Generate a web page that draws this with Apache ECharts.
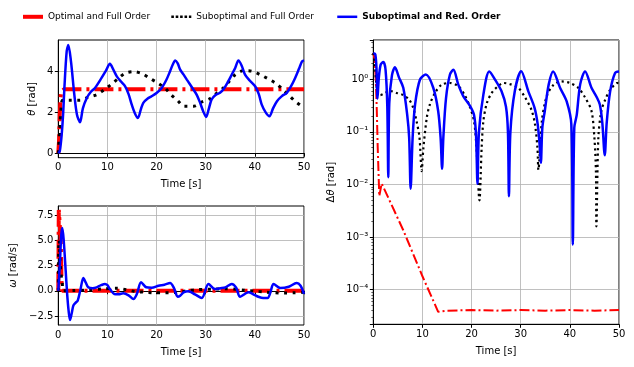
<!DOCTYPE html>
<html>
<head>
<meta charset="utf-8">
<script src="https://cdn.jsdelivr.net/npm/echarts@6/dist/echarts.min.js"></script>
<style>
  html, body { margin: 0; padding: 0; background: #fff; }
  #chart { width: 634px; height: 367px; }
</style>
</head>
<body>
<div id="chart"></div>
<script>
// theta [rad]
const thetaOptT = [0, 0.15, 0.3, 0.45, 0.6, 0.8, 1.2, 50];
const thetaOpt = [0, 0.6, 1.9, 2.7, 3.05, 3.14, 3.14, 3.14];
const thetaSubT = [0, 0.3, 0.6, 0.9, 2.7, 4.4, 6.1, 7.8, 9.4, 10.7, 12.2, 13.6, 15.3, 17.1, 18.7, 20.0, 21.7, 22.95, 24.3, 25.6, 27.5, 29.2, 30.9, 32.3, 33.6, 34.8, 36.0, 37.7, 39.4, 41.1, 42.6, 44.1, 45.5, 46.8, 48.2, 49.6, 50];
const thetaSub = [0, 1.2, 2.3, 2.6, 2.6, 2.6, 2.75, 2.87, 3.12, 3.36, 3.66, 3.92, 4.0, 3.89, 3.66, 3.48, 3.2, 2.87, 2.58, 2.3, 2.3, 2.51, 2.68, 2.96, 3.2, 3.53, 3.85, 4.05, 4.02, 3.85, 3.66, 3.45, 3.17, 2.87, 2.55, 2.3, 2.27];
const thetaRedT = [0, 0.3, 0.69, 1.0, 1.24, 1.71, 2.04, 2.58, 3.26, 3.8, 4.42, 5.0, 5.8, 6.6, 7.47, 8.8, 9.7, 10.5, 11.2, 11.9, 12.8, 13.6, 14.3, 14.95, 15.6, 16.2, 16.8, 17.3, 18.2, 19.0, 20.0, 21.05, 22.0, 22.75, 23.3, 23.8, 24.3, 24.8, 25.5, 26.15, 27.5, 28.2, 28.86, 29.5, 30.08, 30.6, 31.2, 32.0, 32.9, 33.8, 34.6, 35.4, 36.0, 36.66, 37.3, 38.0, 39.0, 40.06, 40.8, 41.4, 42.2, 42.97, 43.7, 44.5, 45.5, 46.5, 47.4, 48.2, 49.0, 49.6, 50];
const thetaRed = [0, 0.1, 0.91, 2.0, 3.2, 5.0, 5.3, 4.5, 2.87, 1.89, 1.52, 2.2, 2.71, 3.0, 3.2, 3.69, 4.05, 4.38, 4.1, 3.77, 3.5, 3.28, 2.9, 2.38, 1.95, 1.73, 2.15, 2.47, 2.68, 2.79, 2.95, 3.2, 3.6, 4.02, 4.35, 4.54, 4.4, 4.1, 3.85, 3.61, 3.12, 2.85, 2.47, 2.05, 1.78, 2.15, 2.63, 2.85, 2.96, 3.2, 3.53, 3.9, 4.18, 4.54, 4.3, 3.85, 3.55, 3.28, 2.9, 2.38, 2.0, 1.81, 2.2, 2.55, 2.8, 2.96, 3.3, 3.69, 4.15, 4.5, 4.55];

// omega [rad/s]
const omegaOptT = [0, 0.1, 0.3, 0.5, 0.65, 0.8, 1.0, 50];
const omegaOpt = [0, 8.0, 7.9, 5.0, 1.0, 0, 0, 0];
const omegaSubT = [0, 0.1, 0.2, 0.35, 0.55, 0.8, 1.0, 3, 6, 9, 11.9, 13.9, 15.5, 17.2, 19, 20.9, 22.6, 24.6, 26.3, 28, 31.4, 34, 36, 38, 40, 42, 44, 46, 48, 50];
const omegaSub = [0, 4.5, 5.0, 3.0, 1.7, 0.8, 0.0, 0.02, 0.08, 0.18, 0.24, 0.1, -0.07, -0.13, -0.2, -0.2, -0.2, -0.13, 0.0, 0.1, 0.15, 0.2, 0.15, 0.05, -0.05, -0.12, -0.2, -0.22, -0.2, -0.15];
const omegaRedT = [0, 0.3, 0.6, 0.82, 1.1, 1.5, 1.8, 2.1, 2.38, 2.7, 3.06, 3.5, 3.95, 4.5, 5.1, 5.6, 6.1, 7.0, 7.8, 8.7, 9.5, 10.0, 10.5, 11.4, 12.3, 13.2, 14.3, 15.3, 16.0, 16.85, 17.9, 19.0, 20.4, 21.6, 22.75, 23.5, 24.3, 24.8, 25.5, 26.5, 27.8, 29.2, 30.55, 31.9, 33.0, 34.0, 35.3, 36.2, 37.0, 38.7, 39.7, 40.7, 41.7, 42.6, 43.2, 43.8, 45.2, 46.9, 48.5, 49.3, 50];
const omegaRed = [0, 2.5, 5.5, 6.2, 5.0, 2.0, -0.3, -2.0, -2.9, -2.3, -1.48, -1.2, -0.98, 0.1, 1.26, 0.8, 0.34, 0.25, 0.34, 0.55, 0.67, 0.55, 0.17, -0.32, -0.35, -0.25, -0.45, -0.82, -0.3, 0.83, 0.34, 0.3, 0.5, 0.6, 0.77, 0.3, -0.59, -0.49, -0.16, -0.06, -0.35, -0.72, 0.67, 0.17, 0.25, 0.34, 0.67, 0.3, -0.59, -0.16, -0.35, -0.59, -0.72, -0.72, -0.1, 0.67, 0.27, 0.4, 0.77, 0.5, -0.32];

// delta theta [rad], log scale
const dthOptT = [0, 0.3, 0.5, 0.68, 0.9, 1.22, 1.7, 2.04, 6.1, 10, 13.2, 15, 20, 25, 30, 35, 40, 45, 50];
const dthOpt = [3.14, 2.3, 1.0, 0.33, 0.05, 0.006, 0.0105, 0.0105, 0.00135, 0.00018, 0.000038, 0.00004, 0.000041, 0.00004, 0.000041, 0.00004, 0.000041, 0.00004, 0.000041];
const dthSubT = [0, 0.3, 0.6, 0.9, 1.36, 3.4, 4.75, 6.1, 7.3, 8.1, 8.8, 9.4, 9.84, 10.2, 10.9, 11.5, 12.55, 13.9, 15.6, 17.3, 18.7, 19.7, 20.5, 21.0, 21.6, 22.05, 22.4, 23.1, 24.1, 25.4, 26.5, 27.8, 29.5, 30.9, 32.2, 32.9, 33.4, 33.6, 34.3, 35.3, 36.7, 38.3, 40.0, 41.7, 43.1, 44.4, 44.99, 45.3, 45.4, 45.8, 46.4, 47.2, 48.2, 49.6, 50];
const dthSub = [3.14, 1.9, 0.85, 0.54, 0.5, 0.6, 0.55, 0.5, 0.41, 0.29, 0.16, 0.078, 0.018, 0.05, 0.19, 0.33, 0.55, 0.79, 0.85, 0.74, 0.48, 0.29, 0.16, 0.05, 0.005, 0.05, 0.16, 0.35, 0.55, 0.74, 0.85, 0.81, 0.69, 0.45, 0.26, 0.14, 0.05, 0.019, 0.16, 0.48, 0.79, 0.91, 0.85, 0.69, 0.45, 0.25, 0.078, 0.018, 0.0016, 0.078, 0.25, 0.41, 0.63, 0.85, 0.86];
const dthRedT = [0, 0.4, 0.65, 0.85, 1.1, 1.5, 2.04, 2.5, 2.85, 3.05, 3.25, 3.8, 4.41, 5.2, 6.1, 6.9, 7.3, 7.6, 8.0, 8.5, 9.5, 10.7, 12.2, 13.2, 13.7, 14.0, 14.25, 14.8, 15.6, 16.3, 17.3, 18.3, 19.7, 20.5, 20.9, 21.2, 21.5, 22.4, 23.6, 24.8, 26.1, 27.0, 27.4, 27.6, 27.9, 28.8, 30.1, 31.55, 32.8, 33.45, 33.9, 34.1, 34.4, 34.9, 35.7, 36.6, 38.0, 39.35, 40.3, 40.6, 40.9, 41.4, 42.1, 43.1, 44.4, 45.5, 46.1, 46.6, 47.1, 47.5, 48.2, 49.2, 50];
const dthRed = [3.14, 3.0, 1.6, 0.43, 1.0, 1.9, 2.13, 1.5, 0.3, 0.0138, 0.35, 1.2, 1.69, 1.1, 0.69, 0.21, 0.077, 0.0083, 0.077, 0.33, 0.99, 1.23, 0.69, 0.25, 0.077, 0.02, 0.077, 0.44, 1.23, 1.52, 0.79, 0.48, 0.31, 0.21, 0.089, 0.0103, 0.1, 0.51, 1.41, 0.98, 0.59, 0.3, 0.1, 0.006, 0.1, 0.6, 1.42, 0.59, 0.29, 0.14, 0.05, 0.026, 0.12, 0.25, 0.8, 1.41, 0.69, 0.38, 0.14, 0.00072, 0.12, 0.21, 0.8, 1.41, 0.69, 0.45, 0.33, 0.15, 0.036, 0.15, 0.59, 1.32, 1.41];

const thetaTicks = [0, 2, 4];
const omegaTicks = [-2.5, 0, 2.5, 5, 7.5];

const names = ['Optimal and Full Order', 'Suboptimal and Full Order', 'Suboptimal and Red. Order'];

const zip = (t, v) => t.map((x, i) => [x, v[i]]);
const FONT = 'DejaVu Sans';
const txt = { color: '#000', fontFamily: FONT, fontSize: 10 };
const SUP = { '0': '⁰', '1': '¹', '2': '²', '3': '³', '4': '⁴', '5': '⁵', '-': '⁻' };

const chart = echarts.init(document.getElementById('chart'));

const xAxisFor = (gi) => ({
  type: 'value', gridIndex: gi, min: 0, max: 50, interval: 10,
  name: 'Time [s]', nameLocation: 'middle', nameGap: 22, nameTextStyle: txt,
  axisLine: { show: true, lineStyle: { color: '#000', width: 1 } },
  axisTick: { show: true, length: 3.5, lineStyle: { color: '#000' } },
  axisLabel: { ...txt, margin: 5 },
  splitLine: { show: true, lineStyle: { color: '#b0b0b0', width: 0.8 } }
});

const minus = (s) => String(s).replace('-', '\u2212');
const italic = { fontStyle: 'italic', fontFamily: FONT, fontSize: 10, color: '#000' };

const yAxes = [
  {
    type: 'value', gridIndex: 0, min: -0.22, max: 5.55,
    name: '{i|θ} [rad]', nameLocation: 'middle', nameGap: 21, nameRotate: 90,
    nameTextStyle: { ...txt, rich: { i: italic } },
    axisLine: { show: true, lineStyle: { color: '#000', width: 1 } },
    axisTick: { show: true, length: 3.5, lineStyle: { color: '#000' }, customValues: thetaTicks },
    axisLabel: { ...txt, margin: 5, customValues: thetaTicks },
    splitLine: { show: true, lineStyle: { color: '#b0b0b0', width: 0.8 } }
  },
  {
    type: 'value', gridIndex: 1, min: -3.39, max: 8.39,
    name: '{i|ω} [rad/s]', nameLocation: 'middle', nameGap: 40, nameRotate: 90,
    nameTextStyle: { ...txt, rich: { i: italic } },
    axisLine: { show: true, lineStyle: { color: '#000', width: 1 } },
    axisTick: { show: true, length: 3.5, lineStyle: { color: '#000' }, customValues: omegaTicks },
    axisLabel: { ...txt, margin: 5, customValues: omegaTicks, formatter: (v) => minus(v.toFixed(1)) },
    splitLine: { show: true, lineStyle: { color: '#b0b0b0', width: 0.8 } }
  },
  {
    type: 'log', logBase: 10, gridIndex: 2, min: 2.2e-5, max: 5.58,
    name: 'Δ{i|θ} [rad]', nameLocation: 'middle', nameGap: 37, nameRotate: 90,
    nameTextStyle: { ...txt, rich: { i: italic } },
    axisLine: { show: true, lineStyle: { color: '#000', width: 1 } },
    axisTick: { show: true, length: 3.5, lineStyle: { color: '#000' } },
    minorTick: { show: true, splitNumber: 9, length: 2, lineStyle: { color: '#000', width: 0.6 } },
    axisLabel: {
      ...txt, margin: 5, showMinLabel: false, showMaxLabel: false,
      formatter: (v) => {
        const l = Math.log10(v);
        const e = Math.round(l);
        if (Math.abs(l - e) > 1e-6) return '';
        return '10' + String(e).split('').map((c) => SUP[c]).join('');
      }
    },
    splitLine: { show: true, lineStyle: { color: '#b0b0b0', width: 0.8 } }
  }
];

const optStyle = (w, dash) => ({ color: '#ff0000', width: w, type: dash, cap: 'butt' });
const subStyle = (w, dash) => ({ color: '#000', width: w, type: dash, cap: 'butt' });
const redStyle = (w) => ({ color: '#0000ff', width: w, type: 'solid' });

const line = (name, data, xi, style, z, smooth) => ({
  name, type: 'line', data, xAxisIndex: xi, yAxisIndex: xi,
  showSymbol: false, symbol: 'none', smooth, lineStyle: style,
  itemStyle: { color: style.color }, z, animation: false
});

const series = [
  line(names[0], zip(thetaOptT, thetaOpt), 0, optStyle(4, [19, 5, 3, 5]), 2, false),
  line(names[1], zip(thetaSubT, thetaSub), 0, subStyle(3, [3, 5.5]), 3, 0.3),
  line(names[2], zip(thetaRedT, thetaRed), 0, redStyle(2.5), 4, 0.3),
  line(names[0], zip(omegaOptT, omegaOpt), 1, optStyle(4, [19, 5, 3, 5]), 2, false),
  line(names[1], zip(omegaSubT, omegaSub), 1, subStyle(3, [3, 5.5]), 3, 0.3),
  line(names[2], zip(omegaRedT, omegaRed), 1, redStyle(2.5), 4, 0.3),
  line(names[0], zip(dthOptT, dthOpt), 2, optStyle(2, [10, 3, 2, 3]), 2, false),
  line(names[1], zip(dthSubT, dthSub), 2, subStyle(2.2, [2.2, 3.3]), 3, 0.3),
  line(names[2], zip(dthRedT, dthRed), 2, redStyle(2.5), 4, 0.3)
];

const legendFor = (name, left, bold, ls) => ({
  show: true, left, top: 12, padding: 0, itemWidth: 20, itemHeight: 12,
  data: [{
    name,
    textStyle: { ...txt, fontSize: 9, fontWeight: bold ? 'bold' : 'normal' },
    itemStyle: { opacity: 0, color: 'transparent', borderWidth: 0 },
    lineStyle: ls
  }],
  selectedMode: false
});

chart.setOption({
  backgroundColor: '#fff',
  animation: false,
  grid: [
    { left: 58.3, top: 40, width: 245.7, height: 117.7, show: true, borderColor: '#000', borderWidth: 1, backgroundColor: 'transparent', outerBoundsMode: 'none' },
    { left: 58.3, top: 206, width: 245.7, height: 119, show: true, borderColor: '#000', borderWidth: 1, backgroundColor: 'transparent', outerBoundsMode: 'none' },
    { left: 373.3, top: 40, width: 245.7, height: 284.3, show: true, borderColor: '#000', borderWidth: 1, backgroundColor: 'transparent', outerBoundsMode: 'none' }
  ],
  legend: [
    legendFor(names[0], 21, false, { color: '#ff0000', width: 4, type: 'solid', cap: 'butt' }),
    legendFor(names[1], 170, false, { color: '#000', width: 2.6, type: [2.6, 1.8], cap: 'butt' }),
    legendFor(names[2], 336, true, { color: '#0000ff', width: 2.5, type: 'solid' })
  ],
  xAxis: [xAxisFor(0), xAxisFor(1), xAxisFor(2)],
  yAxis: yAxes,
  series
});
</script>
</body>
</html>
